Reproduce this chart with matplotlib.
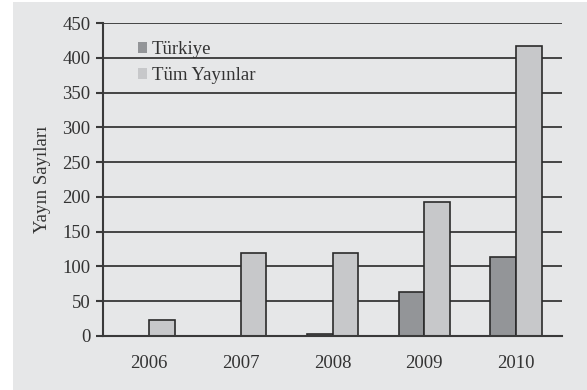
import numpy as np
import matplotlib.pyplot as plt

years = ["2006", "2007", "2008", "2009", "2010"]
turkiye = [0, 0, 3, 63, 113]
tum_yayinlar = [23, 120, 120, 192, 417]

plt.rcParams['font.family'] = ['Liberation Serif', 'DejaVu Serif']

bg = "#e6e7e8"
fig = plt.figure(figsize=(5.87, 3.90), dpi=100)
fig.patches.append(plt.Rectangle((13 / 587, 0), 1, 1 - 2 / 390, transform=fig.transFigure,
                                 facecolor=bg, edgecolor="none", zorder=-10))
ax = fig.add_axes([103 / 587, 1 - 336 / 390, (562 - 103) / 587, (336 - 23) / 390])
ax.set_facecolor(bg)

x = np.arange(len(years))
w = 0.28
ax.bar(x - w / 2, turkiye, w, color="#939598", edgecolor="#2b2b2b", linewidth=1.2,
       label="Türkiye", zorder=3)
ax.bar(x + w / 2, tum_yayinlar, w, color="#c7c8ca", edgecolor="#2b2b2b", linewidth=1.2,
       label="Tüm Yayınlar", zorder=3)

ax.set_xlim(-0.5, len(years) - 0.5)
ax.set_ylim(0, 450)
ax.set_yticks(np.arange(0, 451, 50))
ax.set_xticks(x)
ax.set_xticklabels(years)
ax.grid(axis="y", color="#444444", linewidth=1.4, zorder=1)
ax.set_axisbelow(True)

for s in ["top", "right"]:
    ax.spines[s].set_visible(False)
for s in ["left", "bottom"]:
    ax.spines[s].set_color("#3a3a3a")
    ax.spines[s].set_linewidth(1.5)
    ax.spines[s].set_zorder(4)

ax.tick_params(axis="y", length=5, width=1.5, color="#3a3a3a", labelsize=13.5,
               labelcolor="#333333", pad=4)
ax.tick_params(axis="x", length=0, labelsize=13.5, labelcolor="#333333", pad=14)

ax.set_ylabel("Yayın Sayıları", fontsize=13.5, color="#333333", labelpad=8)

leg = ax.legend(loc="upper left", bbox_to_anchor=(0.06, 0.965), frameon=False,
                fontsize=13.5, handlelength=0.5, handleheight=0.5, handletextpad=0.25,
                labelspacing=0.45, borderaxespad=0)
for h in leg.legend_handles:
    h.set_edgecolor("none")
for t in leg.get_texts():
    t.set_color("#333333")

fig.savefig("out.png", dpi=100, facecolor="white")
